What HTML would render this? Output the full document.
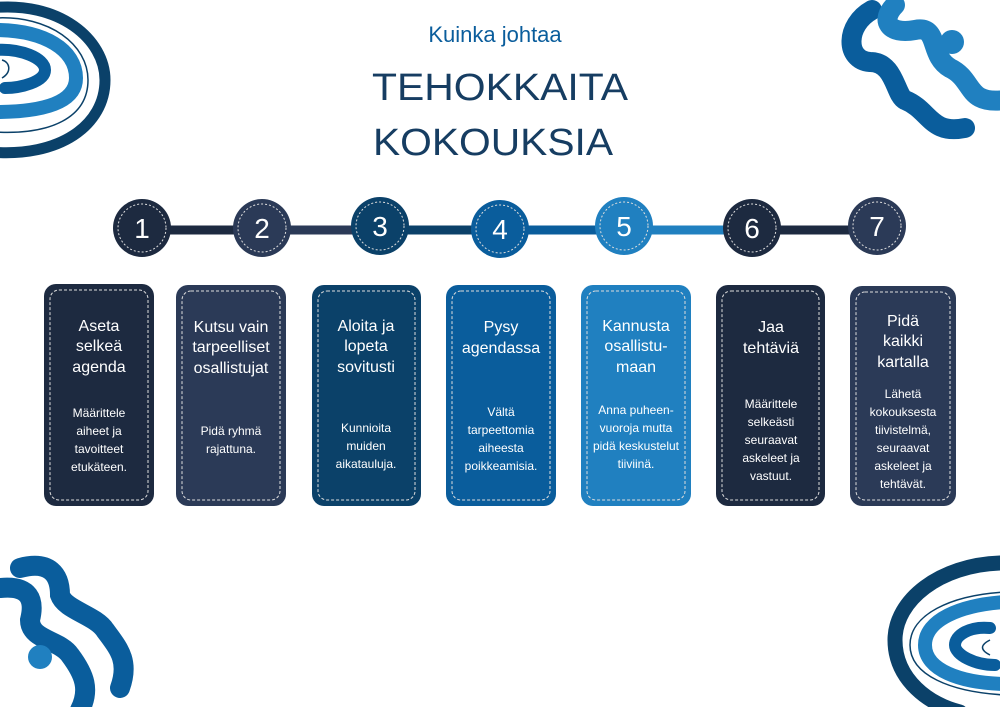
<!DOCTYPE html>
<html><head><meta charset="utf-8"><style>
html,body{margin:0;padding:0;background:#fff}
svg{display:block}
text{font-family:"Liberation Sans",sans-serif}
</style></head><body>
<svg width="1000" height="707" viewBox="0 0 1000 707" xmlns="http://www.w3.org/2000/svg">
<!-- top-left decoration -->
<g>
<path d="M-10 8 C60 0 105 40 105 80 C105 125 60 158 -10 152" fill="none" stroke="#0b4169" stroke-width="11"/>
<path d="M-5 18 C50 15 88 45 88 80 C88 118 50 135 -5 132" fill="none" stroke="#0b4169" stroke-width="1.5"/>
<path d="M-5 30 C45 30 76 50 76 78 C76 102 45 112 -5 112" fill="none" stroke="#2080c0" stroke-width="14"/>
<path d="M-5 50 C20 48 45 58 45 70 C45 82 20 88 5 88" fill="none" stroke="#0a5d9c" stroke-width="12" stroke-linecap="round"/>
<path d="M2 60 C10 62 12 72 2 78" fill="none" stroke="#0b4169" stroke-width="1.5"/>
</g>
<!-- top-right decoration -->
<g fill="none" stroke-linecap="round">
<path d="M872 10 C845 25 845 60 870 62 C895 62 895 95 905 100 C930 110 930 135 965 128" stroke="#0a5d9c" stroke-width="20"/>
<path d="M895 5 C880 20 888 35 915 30 C940 25 928 55 950 68 C975 80 965 105 1005 100" stroke="#2080c0" stroke-width="20"/>
<circle cx="952" cy="42" r="12" fill="#2080c0"/>
</g>
<!-- bottom-left decoration -->
<g fill="none" stroke-linecap="round">
<path d="M20 568 C50 560 60 575 60 595 C65 610 95 615 105 630 C118 648 130 660 120 688" stroke="#0a5d9c" stroke-width="20"/>
<path d="M0 588 C30 585 35 600 30 620 C30 640 60 640 70 655 C85 675 90 690 80 710" stroke="#0a5d9c" stroke-width="20"/>
<circle cx="40" cy="657" r="12" fill="#2080c0"/>
</g>
<!-- bottom-right decoration -->
<g>
<path d="M1000 563 C940 565 895 600 895 640 C895 680 930 705 960 712" fill="none" stroke="#0b4169" stroke-width="15" stroke-linecap="round"/>
<path d="M1005 592 C950 595 910 615 910 645 C910 675 950 692 1005 695" fill="none" stroke="#0b4169" stroke-width="1.5"/>
<path d="M1005 602 C960 605 925 620 925 645 C925 670 960 683 1005 684" fill="none" stroke="#2080c0" stroke-width="14"/>
<path d="M990 628 C970 626 955 635 955 645 C955 655 975 665 995 665" fill="none" stroke="#0a5d9c" stroke-width="12" stroke-linecap="round"/>
<path d="M990 640 C980 645 980 650 990 655" fill="none" stroke="#0b4169" stroke-width="1.5"/>
</g>
<!-- titles -->
<text x="495" y="42" text-anchor="middle" font-size="22" fill="#0a5d9c">Kuinka johtaa</text>
<text x="372" y="100" font-size="38" fill="#163d62" textLength="256" lengthAdjust="spacingAndGlyphs">TEHOKKAITA</text>
<text x="373" y="155" font-size="38" fill="#163d62" textLength="240" lengthAdjust="spacingAndGlyphs">KOKOUKSIA</text>
<!-- connectors -->
<line x1="142" y1="230" x2="262" y2="230" stroke="#1d2a40" stroke-width="9"/>
<line x1="262" y1="230" x2="380" y2="230" stroke="#2b3a57" stroke-width="9"/>
<line x1="380" y1="230" x2="500" y2="230" stroke="#0b4169" stroke-width="9"/>
<line x1="500" y1="230" x2="624" y2="230" stroke="#0a5d9c" stroke-width="9"/>
<line x1="624" y1="230" x2="752" y2="230" stroke="#2080c0" stroke-width="9"/>
<line x1="752" y1="230" x2="877" y2="230" stroke="#1d2a40" stroke-width="9"/>
<!-- circles -->
<g font-size="28" text-anchor="middle" fill="#fff">
<circle cx="142" cy="228" r="29" fill="#1d2a40"/><circle cx="142" cy="228" r="24" fill="none" stroke="#ddd" stroke-width="1" stroke-dasharray="2 2"/><text x="142" y="238">1</text>
<circle cx="262" cy="228" r="29" fill="#2b3a57"/><circle cx="262" cy="228" r="24" fill="none" stroke="#ddd" stroke-width="1" stroke-dasharray="2 2"/><text x="262" y="238">2</text>
<circle cx="380" cy="226" r="29" fill="#0b4169"/><circle cx="380" cy="226" r="24" fill="none" stroke="#ddd" stroke-width="1" stroke-dasharray="2 2"/><text x="380" y="236">3</text>
<circle cx="500" cy="229" r="29" fill="#0a5d9c"/><circle cx="500" cy="229" r="24" fill="none" stroke="#ddd" stroke-width="1" stroke-dasharray="2 2"/><text x="500" y="239">4</text>
<circle cx="624" cy="226" r="29" fill="#2080c0"/><circle cx="624" cy="226" r="24" fill="none" stroke="#ddd" stroke-width="1" stroke-dasharray="2 2"/><text x="624" y="236">5</text>
<circle cx="752" cy="228" r="29" fill="#1d2a40"/><circle cx="752" cy="228" r="24" fill="none" stroke="#ddd" stroke-width="1" stroke-dasharray="2 2"/><text x="752" y="238">6</text>
<circle cx="877" cy="226" r="29" fill="#2b3a57"/><circle cx="877" cy="226" r="24" fill="none" stroke="#ddd" stroke-width="1" stroke-dasharray="2 2"/><text x="877" y="236">7</text>
</g>
<!-- cards -->
<g fill="none" stroke="#ddd" stroke-width="1" stroke-dasharray="3 2">
</g>
<g text-anchor="middle" fill="#fff">
<rect x="44" y="284" width="110" height="222" rx="12" fill="#1d2a40"/>
<rect x="50" y="290" width="98" height="210" rx="9" fill="none" stroke="#ddd" stroke-dasharray="3 2"/>
<g font-size="16"><text x="99" y="331">Aseta</text><text x="99" y="351">selkeä</text><text x="99" y="372">agenda</text></g>
<g font-size="12"><text x="99" y="417">Määrittele</text><text x="99" y="435">aiheet ja</text><text x="99" y="453">tavoitteet</text><text x="99" y="471">etukäteen.</text></g>

<rect x="176" y="285" width="110" height="221" rx="12" fill="#2b3a57"/>
<rect x="182" y="291" width="98" height="209" rx="9" fill="none" stroke="#ddd" stroke-dasharray="3 2"/>
<g font-size="16"><text x="231" y="332">Kutsu vain</text><text x="231" y="352">tarpeelliset</text><text x="231" y="373">osallistujat</text></g>
<g font-size="12"><text x="231" y="435">Pidä ryhmä</text><text x="231" y="453">rajattuna.</text></g>

<rect x="312" y="285" width="109" height="221" rx="12" fill="#0b4169"/>
<rect x="318" y="291" width="97" height="209" rx="9" fill="none" stroke="#ddd" stroke-dasharray="3 2"/>
<g font-size="16"><text x="366" y="331">Aloita ja</text><text x="366" y="351">lopeta</text><text x="366" y="372">sovitusti</text></g>
<g font-size="12"><text x="366" y="432">Kunnioita</text><text x="366" y="450">muiden</text><text x="366" y="468">aikatauluja.</text></g>

<rect x="446" y="285" width="110" height="221" rx="12" fill="#0a5d9c"/>
<rect x="452" y="291" width="98" height="209" rx="9" fill="none" stroke="#ddd" stroke-dasharray="3 2"/>
<g font-size="16"><text x="501" y="332">Pysy</text><text x="501" y="353">agendassa</text></g>
<g font-size="12"><text x="501" y="416">Vältä</text><text x="501" y="434">tarpeettomia</text><text x="501" y="452">aiheesta</text><text x="501" y="470">poikkeamisia.</text></g>

<rect x="581" y="285" width="110" height="221" rx="12" fill="#2080c0"/>
<rect x="587" y="291" width="98" height="209" rx="9" fill="none" stroke="#ddd" stroke-dasharray="3 2"/>
<g font-size="16"><text x="636" y="331">Kannusta</text><text x="636" y="351">osallistu-</text><text x="636" y="372">maan</text></g>
<g font-size="12"><text x="636" y="414">Anna puheen-</text><text x="636" y="432">vuoroja mutta</text><text x="636" y="450">pidä keskustelut</text><text x="636" y="468">tiiviinä.</text></g>

<rect x="716" y="285" width="109" height="221" rx="12" fill="#1d2a40"/>
<rect x="722" y="291" width="97" height="209" rx="9" fill="none" stroke="#ddd" stroke-dasharray="3 2"/>
<g font-size="16"><text x="771" y="332">Jaa</text><text x="771" y="353">tehtäviä</text></g>
<g font-size="12"><text x="771" y="408">Määrittele</text><text x="771" y="426">selkeästi</text><text x="771" y="444">seuraavat</text><text x="771" y="462">askeleet ja</text><text x="771" y="480">vastuut.</text></g>

<rect x="850" y="286" width="106" height="220" rx="12" fill="#2b3a57"/>
<rect x="856" y="292" width="94" height="208" rx="9" fill="none" stroke="#ddd" stroke-dasharray="3 2"/>
<g font-size="16"><text x="903" y="326">Pidä</text><text x="903" y="346">kaikki</text><text x="903" y="367">kartalla</text></g>
<g font-size="12"><text x="903" y="398">Lähetä</text><text x="903" y="416">kokouksesta</text><text x="903" y="434">tiivistelmä,</text><text x="903" y="452">seuraavat</text><text x="903" y="470">askeleet ja</text><text x="903" y="488">tehtävät.</text></g>
</g>
</svg>
</body></html>
